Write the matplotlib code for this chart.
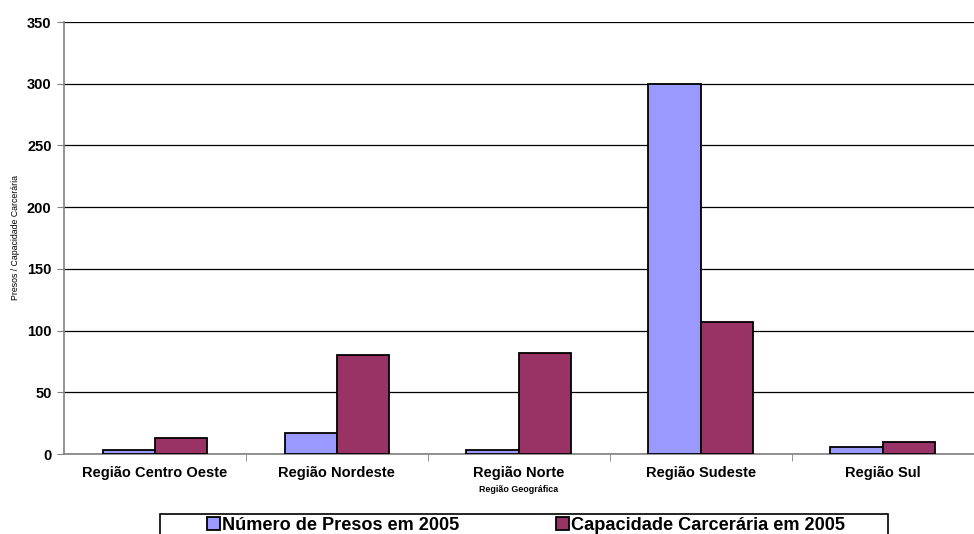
import numpy as np
import matplotlib.pyplot as plt
from matplotlib.patches import Rectangle

plt.rcParams['font.family'] = ['Liberation Sans', 'DejaVu Sans']

# data
regioes = ["Região Centro Oeste", "Região Nordeste", "Região Norte",
           "Região Sudeste", "Região Sul"]
presos_2005 = [3, 17, 3, 300, 6]
capacidade_2005 = [13, 80, 82, 107, 10]

W, H = 974, 534
fig = plt.figure(figsize=(W / 100, H / 100), dpi=100)
ax = fig.add_axes([64 / W, 1 - 454 / H, 0.934, (454 - 22) / H])

x = np.arange(len(regioes))
w = 0.288
ax.bar(x - w / 2, presos_2005, w, color="#9999FF", edgecolor="black",
       linewidth=1.3, label="Número de Presos em 2005", zorder=3)
ax.bar(x + w / 2, capacidade_2005, w, color="#993366", edgecolor="black",
       linewidth=1.3, label="Capacidade Carcerária em 2005", zorder=3)

ax.set_xlim(-0.5, len(regioes) - 0.5)
ax.set_ylim(0, 350)
ax.set_yticks(np.arange(0, 351, 50))
ax.yaxis.grid(True, color="black", linewidth=0.9)
ax.set_axisbelow(True)

# category labels centered, ticks between categories
ax.set_xticks(x)
ax.set_xticklabels(regioes, fontsize=10.5, fontweight="bold")
ax.tick_params(axis="x", length=0, pad=9)
ax.set_xticks(np.arange(0.5, len(regioes) - 0.5, 1), minor=True)
ax.tick_params(axis="x", which="minor", length=5, color="#808080", direction="out")
ax.tick_params(axis="y", length=5, color="#808080", labelsize=10.5, pad=4)
for lab in ax.get_yticklabels():
    lab.set_fontweight("bold")

for s in ["top", "right"]:
    ax.spines[s].set_visible(False)
for s in ["left", "bottom"]:
    ax.spines[s].set_color("#808080")
    ax.spines[s].set_linewidth(1.2)

ax.set_xlabel("Região Geográfica", fontsize=6.4, fontweight="bold", labelpad=3)
ax.set_ylabel("Presos / Capacidade Carcerária", fontsize=6.3, labelpad=5)

# legend box sits at the bottom edge, partly cut off
fig.add_artist(Rectangle((160 / W, -0.05), 728 / W, (1 - 514 / H) + 0.05,
                         transform=fig.transFigure, fill=False,
                         edgecolor="black", linewidth=1.2))
leg = fig.legend(loc="upper left", bbox_to_anchor=(207 / W, 1 - 517 / H),
                 ncol=2, frameon=False, handlelength=0.72, handleheight=0.68,
                 handletextpad=0.12, borderpad=0, borderaxespad=0,
                 columnspacing=5.3, prop={"size": 13.1, "weight": "bold"})

fig.savefig("out.png", dpi=100)
